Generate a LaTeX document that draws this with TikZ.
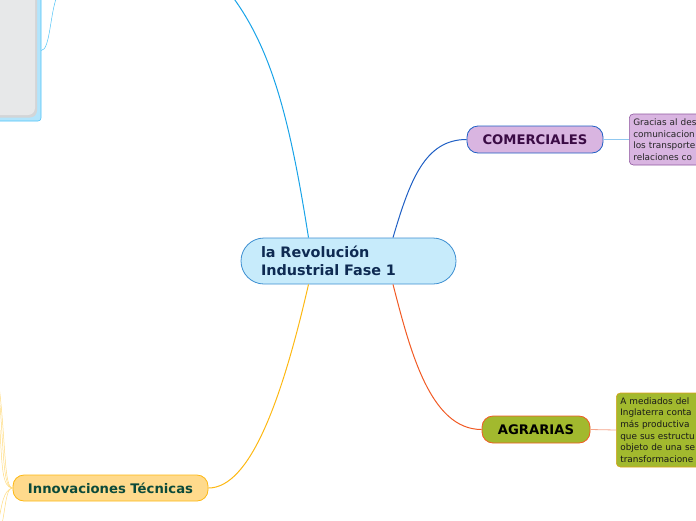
\documentclass[tikz,border=0pt]{standalone}
\usepackage{fontspec}
\setmainfont{DejaVu Sans}
\definecolor{cenfill}{HTML}{C7EBFB}
\definecolor{cenline}{HTML}{3D8FD1}
\definecolor{centext}{HTML}{0E2A52}
\definecolor{topline}{HTML}{19A3E8}
\definecolor{comfill}{HTML}{D9B5E1}
\definecolor{comline}{HTML}{1F5FC4}
\definecolor{comtext}{HTML}{3B0B45}
\definecolor{purline}{HTML}{9058A0}
\definecolor{purlink}{HTML}{90C8F0}
\definecolor{agrfill}{HTML}{A2B92E}
\definecolor{agrline}{HTML}{F15A24}
\definecolor{grnline}{HTML}{D9A21B}
\definecolor{grnlink}{HTML}{F4A58A}
\definecolor{innfill}{HTML}{FFDA8C}
\definecolor{innline}{HTML}{FDB813}
\definecolor{inntext}{HTML}{0C4A3A}
\definecolor{innlight}{HTML}{FFDB80}
\definecolor{tlfill}{HTML}{B3E5FC}
\definecolor{tlline}{HTML}{4FC3F7}
\definecolor{tlgrey}{HTML}{E7E8E9}
\definecolor{tlshadow}{HTML}{D3D5D7}
\begin{document}
\begin{tikzpicture}[x=1pt,y=-1pt,
  topic/.style={draw, line width=0.8pt, rounded corners=11pt, font=\bfseries\fontsize{13.2}{15}\selectfont, inner sep=0pt, minimum height=27pt},
  note/.style={draw, line width=0.6pt, rounded corners=4pt, font=\fontsize{8.9}{11.6}\selectfont, align=left, inner xsep=4pt, inner ysep=3pt, anchor=west, text width=120pt},
  link/.style={line width=1pt}
]
\useasboundingbox (0,0) rectangle (696,520);
\clip (0,0) rectangle (696,520);
% top-left partial box
\node[draw=tlline, fill=tlfill, line width=0.6pt, rounded corners=3pt, minimum width=61pt, minimum height=141pt, inner sep=0pt] (tl) at (10.5,50.5) {};
\fill[tlshadow, rounded corners=7pt] (-20,-20) rectangle (37,117.5);
\node[fill=tlgrey, rounded corners=7pt, minimum width=55pt, minimum height=135pt, inner sep=0pt] (tlin) at (7.5,47.5) {};
\coordinate (tltop) at (57,-4);
\draw[tlline, line width=0.5pt] (tl.east) .. controls (50,50) and (50,14) .. (tltop);
% central
\node[draw=cenline, fill=cenfill, line width=0.8pt, rounded corners=23pt, minimum width=215pt, minimum height=46pt, inner xsep=20pt, inner ysep=0pt, text width=175pt, align=left, font=\bfseries\fontsize{14.4}{17.5}\selectfont, text=centext] (cen) at (348.5,261) {la Revolución\\Industrial Fase 1};
\coordinate (ctop) at (232,-4);
\draw[topline, link] ([xshift=-40pt]cen.north) .. controls (290,120) and (272,50) .. (ctop);
% COMERCIALES
\node[topic, draw=comline, fill=comfill, text=comtext, minimum width=136pt] (com) at (535,139.5) {COMERCIALES};
\draw[comline, link] ([xshift=44.5pt]cen.north) .. controls (410,180) and (425,139.5) .. (com.west);
\node[note, draw=purline, fill=comfill, text=black!85, minimum height=51pt] (pur) at (629,139.5) {Gracias al des\\comunicacion\\los transporte\\relaciones co};
\draw[purlink, line width=0.8pt] (com.east) -- (pur.west);
% AGRARIAS
\node[topic, draw=agrline, fill=agrfill, text=black, minimum width=108pt] (agr) at (536,429.5) {AGRARIAS};
\draw[agrline, link] ([xshift=44.5pt]cen.south) .. controls (410,350) and (430,429.5) .. (agr.west);
\node[note, draw=grnline, fill=agrfill, text=black!90, minimum height=74pt] (grn) at (616,430) {A mediados del\\Inglaterra conta\\más productiva\\que sus estructu\\objeto de una se\\transformacione};
\draw[grnlink, line width=0.8pt] (agr.east) -- (grn.west);
% Innovaciones
\node[topic, draw=innline, fill=innfill, text=inntext, minimum width=195pt, minimum height=26pt] (inn) at (110.5,488) {Innovaciones Técnicas};
\draw[innline, link] ([xshift=-40pt]cen.south) .. controls (282,400) and (250,488) .. (inn.east);
\coordinate (ia) at (-1,385);
\coordinate (ib) at (0,405);
\coordinate (ic) at (0,430);
\coordinate (id) at (2,524);
\coordinate (ie) at (-2,524);
\draw[innlight, line width=0.5pt] (inn.west) .. controls (4,488) and (6,445) .. (ia);
\draw[innlight, line width=0.5pt] (inn.west) .. controls (3,488) and (4,455) .. (ib);
\draw[innlight, line width=0.5pt] (inn.west) .. controls (2,488) and (2,465) .. (ic);
\draw[innlight, line width=0.5pt] (inn.west) .. controls (6,488) and (6,505) .. (id);
\draw[innlight, line width=0.5pt] (inn.west) .. controls (3,490) and (2,505) .. (ie);
\end{tikzpicture}
\end{document}
